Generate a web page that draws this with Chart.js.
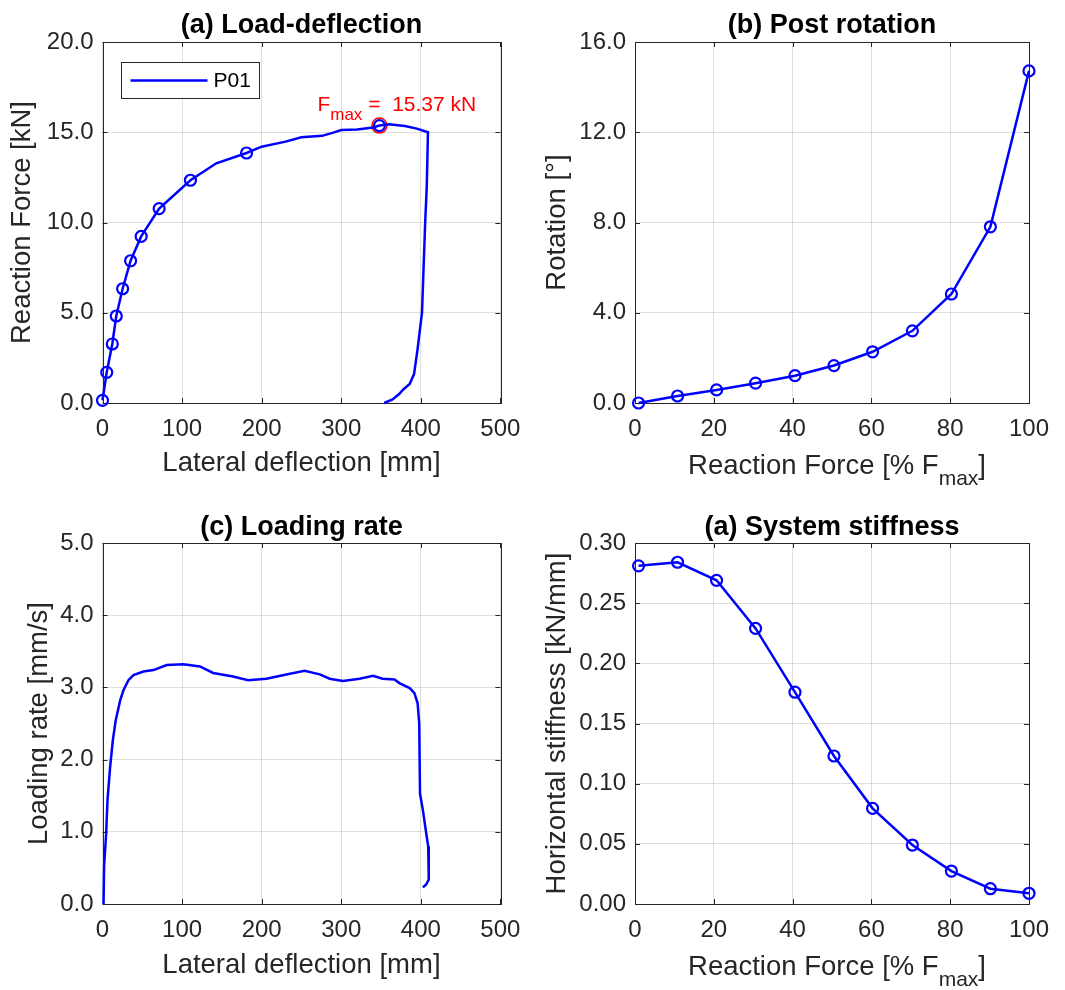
<!DOCTYPE html>
<html>
<head>
<meta charset="utf-8">
<title>P01 test results</title>
<script src="https://cdn.jsdelivr.net/npm/chart.js@4.4.1/dist/chart.umd.min.js"></script>
<style>
  body { margin: 0; background: #fff; }
  #wrap { position: relative; width: 1065px; height: 990px; }
  canvas { position: absolute; }
</style>
</head>
<body>
<div id="wrap">
  <canvas id="c1" width="532" height="501" style="left:0;top:0"></canvas>
  <canvas id="c2" width="533" height="501" style="left:532px;top:0"></canvas>
  <canvas id="c3" width="532" height="489" style="left:0;top:501px"></canvas>
  <canvas id="c4" width="533" height="489" style="left:532px;top:501px"></canvas>
</div>
<script>
// (a) load-deflection, P01
const deflection = [0, 5.3, 12.3, 17.3, 25.3, 35.3, 48.6, 71.2, 110.5, 143, 181, 200, 230, 250, 276, 290, 300, 320, 340, 348, 360, 380, 395, 409, 407.5, 405.5, 401.5, 396, 391.5, 386, 378, 372.8, 364.5, 354];
const force = [0.15, 1.70, 3.27, 4.82, 6.33, 7.88, 9.23, 10.77, 12.34, 13.28, 13.85, 14.2, 14.48, 14.72, 14.8, 14.98, 15.12, 15.15, 15.26, 15.37, 15.44, 15.35, 15.2, 15.0, 12.0, 10.0, 5.0, 3.0, 1.6, 1.05, 0.75, 0.5, 0.2, 0];
const deflMarks = [0, 5.3, 12.3, 17.3, 25.3, 35.3, 48.6, 71.2, 110.5, 181, 348];
const forceMarks = [0.15, 1.70, 3.27, 4.82, 6.33, 7.88, 9.23, 10.77, 12.34, 13.85, 15.37];
const fmax = 15.37;
const deflAtFmax = 348;

// (b) and (d), against % of Fmax
const pctFmax = [0.9, 10.8, 20.7, 30.6, 40.6, 50.5, 60.3, 70.4, 80.3, 90.2, 100];
const rotation = [0, 0.31, 0.58, 0.88, 1.21, 1.66, 2.27, 3.20, 4.83, 7.81, 14.72];
const stiffness = [0.281, 0.284, 0.269, 0.229, 0.176, 0.123, 0.0795, 0.049, 0.0274, 0.0127, 0.0089];

// (c) loading rate
const rateDefl = [1.3, 2, 4.6, 6.3, 9.6, 13, 16.7, 22.2, 26.3, 32.6, 38.9, 51.4, 64, 80.7, 101.6, 122.5, 139, 164, 183, 206, 231, 254, 273, 285.5, 302, 323, 340, 352, 367, 373, 386, 392, 396, 398, 399, 402.6, 406.8, 409.3, 410, 406.8, 402.6];
const rate = [0, 0.52, 0.98, 1.44, 1.90, 2.27, 2.55, 2.82, 2.96, 3.10, 3.17, 3.22, 3.24, 3.31, 3.32, 3.29, 3.20, 3.15, 3.10, 3.12, 3.18, 3.23, 3.18, 3.12, 3.09, 3.12, 3.16, 3.12, 3.11, 3.06, 2.99, 2.92, 2.78, 2.50, 1.53, 1.30, 0.98, 0.80, 0.34, 0.27, 0.23];

const FONT = '"Liberation Sans", Arial, Helvetica, sans-serif';
const INK = '#262626';
const BLUE = '#0000ff';
const GRID = 'rgba(38,38,38,0.15)';

function pts(xs, ys) {
  return xs.map((x, i) => ({ x: x, y: ys[i] }));
}

function lineSet(label, xs, ys) {
  return { label: label, data: pts(xs, ys), showLine: true, borderColor: BLUE, borderWidth: 2.5,
           pointRadius: 0, clip: false };
}

function markSet(xs, ys, withLine) {
  return { label: 'marks', data: pts(xs, ys), showLine: withLine, borderColor: BLUE, borderWidth: 2.5,
           pointRadius: 5.5, pointBorderWidth: 2.2, pointBorderColor: BLUE,
           pointBackgroundColor: 'rgba(0,0,0,0)', clip: false };
}

// box round the axes, with MATLAB style inner ticks on all sides
const axesBox = {
  id: 'axesBox',
  beforeDatasetsDraw(chart) {
    const { ctx, chartArea: a, scales } = chart;
    const x = scales.x, y = scales.y;
    ctx.save();
    ctx.strokeStyle = INK;
    ctx.lineWidth = 1;
    ctx.beginPath();
    x.ticks.forEach(t => {
      const px = Math.round(x.getPixelForValue(t.value)) + 0.5;
      ctx.moveTo(px, a.bottom); ctx.lineTo(px, a.bottom - 5);
      ctx.moveTo(px, a.top); ctx.lineTo(px, a.top + 5);
    });
    y.ticks.forEach(t => {
      const py = Math.round(y.getPixelForValue(t.value)) + 0.5;
      ctx.moveTo(a.left, py); ctx.lineTo(a.left + 5, py);
      ctx.moveTo(a.right, py); ctx.lineTo(a.right - 5, py);
    });
    ctx.stroke();
    ctx.strokeRect(Math.round(a.left) + 0.5, Math.round(a.top) + 0.5,
                   Math.round(a.width), Math.round(a.height));
    ctx.restore();
  }
};

// legend box and Fmax note for panel (a)
const loadNotes = {
  id: 'loadNotes',
  afterDatasetsDraw(chart) {
    const { ctx, chartArea: a, scales } = chart;
    const ds = chart.data.datasets[0];
    const x0 = Math.round(a.left + 18) + 0.5, y0 = Math.round(a.top + 20) + 0.5, w = 138, h = 36;
    ctx.save();
    ctx.fillStyle = '#fff';
    ctx.fillRect(x0, y0, w, h);
    ctx.strokeStyle = INK;
    ctx.lineWidth = 1;
    ctx.strokeRect(x0, y0, w, h);
    ctx.strokeStyle = ds.borderColor;
    ctx.lineWidth = ds.borderWidth;
    ctx.beginPath();
    ctx.moveTo(x0 + 9, y0 + h / 2);
    ctx.lineTo(x0 + 86, y0 + h / 2);
    ctx.stroke();
    ctx.fillStyle = '#000';
    ctx.font = '21px ' + FONT;
    ctx.textBaseline = 'middle';
    ctx.fillText(ds.label, x0 + 92, y0 + h / 2 + 1);

    const px = scales.x.getPixelForValue(deflAtFmax);
    const py = scales.y.getPixelForValue(fmax);
    let tx = px - 62;
    const ty = py - 14.5;
    ctx.fillStyle = '#ff0000';
    ctx.textBaseline = 'alphabetic';
    ctx.font = '21px ' + FONT;
    ctx.fillText('F', tx, ty);
    tx += ctx.measureText('F').width;
    ctx.font = '17px ' + FONT;
    ctx.fillText('max', tx, ty + 9);
    tx += ctx.measureText('max').width;
    ctx.font = '21px ' + FONT;
    ctx.fillText(' =  ' + fmax.toFixed(2) + ' kN', tx, ty);
    ctx.restore();
  }
};

// x title with subscript, for panels (b) and (d)
const pctTitle = {
  id: 'pctTitle',
  afterDraw(chart) {
    const { ctx, chartArea: a } = chart;
    const main = '27.5px ' + FONT, sub = '21px ' + FONT;
    const p1 = 'Reaction Force [% F', p2 = 'max', p3 = ']';
    ctx.save();
    ctx.fillStyle = INK;
    ctx.textBaseline = 'alphabetic';
    ctx.font = main;
    const w1 = ctx.measureText(p1).width, w3 = ctx.measureText(p3).width;
    ctx.font = sub;
    const w2 = ctx.measureText(p2).width;
    let tx = (a.left + a.right) / 2 - (w1 + w2 + w3) / 2 + 5;
    const ty = a.bottom + 70.5;
    ctx.font = main;
    ctx.fillText(p1, tx, ty);
    tx += w1;
    ctx.font = sub;
    ctx.fillText(p2, tx, ty + 11);
    tx += w2;
    ctx.font = main;
    ctx.fillText(p3, tx, ty);
    ctx.restore();
  }
};

function panelOptions(p) {
  return {
    responsive: false,
    animation: false,
    events: [],
    layout: { padding: { top: 0, right: p.padRight, bottom: 0, left: 0 } },
    plugins: {
      legend: { display: false },
      tooltip: { enabled: false },
      title: {
        display: true, text: p.title, fullSize: false, color: '#000',
        font: { family: FONT, size: 27, weight: 'bold', lineHeight: 1 },
        padding: { top: p.titleTop, bottom: 42 - 27 - p.titleTop }
      }
    },
    scales: {
      x: {
        type: 'linear', min: p.xMin, max: p.xMax,
        afterFit: s => { s.height = p.xHeight; },
        border: { display: false },
        grid: { color: GRID, drawTicks: false },
        ticks: { stepSize: p.xStep, color: INK, padding: 11.6, maxRotation: 0, autoSkip: false,
                 font: { family: FONT, size: 24 }, callback: v => String(v) },
        title: { display: !!p.xTitle, text: p.xTitle, color: INK,
                 font: { family: FONT, size: 27.5, lineHeight: 1.2 },
                 padding: { top: 0, bottom: p.xTitlePad } }
      },
      y: {
        type: 'linear', min: p.yMin, max: p.yMax,
        afterFit: s => { s.width = p.yWidth; },
        border: { display: false },
        grid: { color: GRID, drawTicks: false },
        ticks: { stepSize: p.yStep, color: INK, padding: 9, autoSkip: false,
                 font: { family: FONT, size: 24 }, callback: v => v.toFixed(p.yDec) },
        title: { display: true, text: p.yTitle, color: INK,
                 font: { family: FONT, size: 27.5, lineHeight: 1.2 },
                 padding: { top: p.yTitlePad, bottom: 0 } }
      }
    }
  };
}

new Chart(document.getElementById('c1'), {
  type: 'scatter',
  data: {
    datasets: [
      lineSet('P01', deflection, force),
      markSet(deflMarks, forceMarks, false),
      { label: 'Fmax', data: [{ x: deflAtFmax, y: fmax }], pointRadius: 7.5, pointBorderWidth: 1.5,
        pointBorderColor: '#ff0000', pointBackgroundColor: 'rgba(0,0,0,0)', clip: false }
    ]
  },
  options: panelOptions({
    title: '(a) Load-deflection', titleTop: 12, padRight: 30.5,
    xMin: 0, xMax: 500, xStep: 100, xHeight: 98, xTitle: 'Lateral deflection [mm]', xTitlePad: 20.8,
    yMin: 0, yMax: 20, yStep: 5, yDec: 1, yWidth: 102.5, yTitle: 'Reaction Force [kN]', yTitlePad: 6.3
  }),
  plugins: [axesBox, loadNotes]
});

new Chart(document.getElementById('c2'), {
  type: 'scatter',
  data: { datasets: [markSet(pctFmax, rotation, true)] },
  options: panelOptions({
    title: '(b) Post rotation', titleTop: 12, padRight: 36,
    xMin: 0, xMax: 100, xStep: 20, xHeight: 98, xTitle: '', xTitlePad: 0,
    yMin: 0, yMax: 16, yStep: 4, yDec: 1, yWidth: 103, yTitle: 'Rotation [°]', yTitlePad: 8.5
  }),
  plugins: [axesBox, pctTitle]
});

new Chart(document.getElementById('c3'), {
  type: 'scatter',
  data: { datasets: [lineSet('P01', rateDefl, rate)] },
  options: panelOptions({
    title: '(c) Loading rate', titleTop: 13.5, padRight: 30.5,
    xMin: 0, xMax: 500, xStep: 100, xHeight: 86, xTitle: 'Lateral deflection [mm]', xTitlePad: 7.8,
    yMin: 0, yMax: 5, yStep: 1, yDec: 1, yWidth: 102.5, yTitle: 'Loading rate [mm/s]', yTitlePad: 22.5
  }),
  plugins: [axesBox]
});

new Chart(document.getElementById('c4'), {
  type: 'scatter',
  data: { datasets: [markSet(pctFmax, stiffness, true)] },
  options: panelOptions({
    title: '(a) System stiffness', titleTop: 13.5, padRight: 36,
    xMin: 0, xMax: 100, xStep: 20, xHeight: 86, xTitle: '', xTitlePad: 0,
    yMin: 0, yMax: 0.3, yStep: 0.05, yDec: 2, yWidth: 103, yTitle: 'Horizontal stiffness [kN/mm]', yTitlePad: 8.5
  }),
  plugins: [axesBox, pctTitle]
});
</script>
</body>
</html>
